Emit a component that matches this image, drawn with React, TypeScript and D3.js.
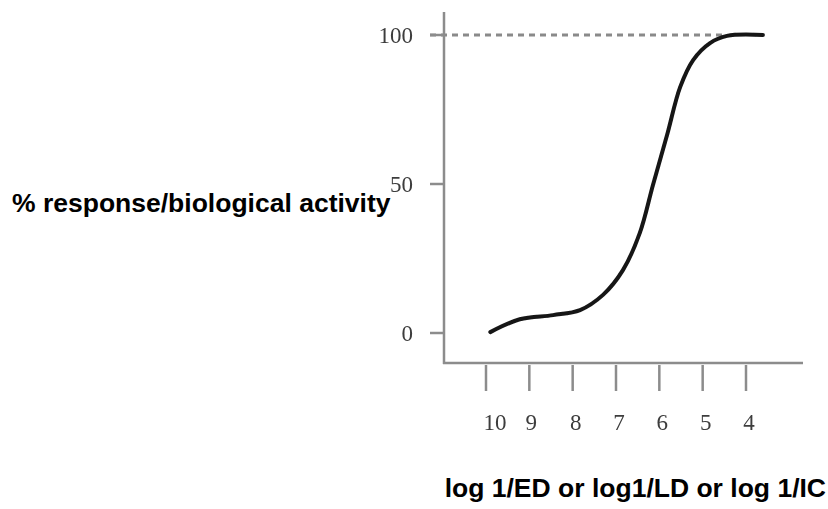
import React, { useEffect, useRef } from "react";
import * as d3 from "d3";

// dose-response curve
const curveX = [9.9, 9.22, 8.45, 7.83, 7.3, 6.84, 6.45, 6.15, 5.82, 5.52, 5.22, 4.83, 4.44, 3.61];
const curveY = [0.3, 4.6, 6, 7.7, 12.8, 21.1, 33.6, 49.5, 66.5, 82.5, 91.6, 97.3, 99.7, 100];

const xTicks = [10, 9, 8, 7, 6, 5, 4];
const yTicks = [0, 50, 100];
const yTitle = "% response/biological activity";
const xTitle = "log 1/ED or log1/LD or log 1/IC";

const W = 828;
const H = 509;
const AXIS = "#8c8c8c";
const SERIF = "'Liberation Serif', 'Times New Roman', serif";
const SANS = "'Liberation Sans', Arial, sans-serif";

const App = () => {
    const svgRef = useRef<SVGSVGElement>(null);

    useEffect(() => {
        if (!svgRef.current) return;
        const svg = d3.select(svgRef.current);
        svg.selectAll("*").remove();

        const x = d3.scaleLinear().domain([10, 4]).range([486, 746]);
        const y = d3.scaleLinear().domain([0, 100]).range([333, 35]);

        const axisX = 444;
        const axisY = 363;

        svg.append("defs").append("filter")
            .attr("id", "soft")
            .append("feGaussianBlur").attr("stdDeviation", 0.6);

        const g = svg.append("g").attr("filter", "url(#soft)");

        // ── 100% reference line ─────────────────────────────────────────────
        g.append("line")
            .attr("x1", axisX - 14).attr("x2", x(4.45))
            .attr("y1", y(100)).attr("y2", y(100))
            .attr("stroke", "#8a8a8a").attr("stroke-width", 2.8)
            .attr("stroke-dasharray", "6,5");

        // ── Axes ────────────────────────────────────────────────────────────
        g.append("line")
            .attr("x1", axisX).attr("x2", axisX)
            .attr("y1", 12).attr("y2", axisY + 1)
            .attr("stroke", AXIS).attr("stroke-width", 2.5);
        g.append("line")
            .attr("x1", axisX - 1).attr("x2", 803)
            .attr("y1", axisY).attr("y2", axisY)
            .attr("stroke", AXIS).attr("stroke-width", 2.5);

        yTicks.forEach(t => {
            g.append("line")
                .attr("x1", axisX - 14).attr("x2", axisX)
                .attr("y1", y(t)).attr("y2", y(t))
                .attr("stroke", AXIS).attr("stroke-width", 2.5);
            g.append("text")
                .attr("x", 413).attr("y", y(t) + 8)
                .attr("text-anchor", "end")
                .attr("font-family", SERIF).attr("font-size", "23px")
                .attr("fill", "#3c3c3c")
                .text(t);
        });

        xTicks.forEach(t => {
            g.append("line")
                .attr("x1", x(t)).attr("x2", x(t))
                .attr("y1", axisY + 2).attr("y2", 391)
                .attr("stroke", AXIS).attr("stroke-width", 2.5);
            g.append("text")
                .attr("x", x(t) + (t === 10 ? 9 : t === 9 ? 2 : 3)).attr("y", 430)
                .attr("text-anchor", "middle")
                .attr("font-family", SERIF).attr("font-size", "23px")
                .attr("fill", "#3c3c3c")
                .text(t);
        });

        // ── Curve ───────────────────────────────────────────────────────────
        const pts: [number, number][] = curveX.map((v, i) => [v, curveY[i]]);
        const line = d3.line<[number, number]>()
            .x(d => x(d[0])).y(d => y(d[1]))
            .curve(d3.curveCatmullRom.alpha(0.5));
        g.append("path")
            .attr("d", line(pts))
            .attr("fill", "none")
            .attr("stroke", "#151515")
            .attr("stroke-width", 4)
            .attr("stroke-linecap", "round");

        // ── Titles ──────────────────────────────────────────────────────────
        svg.append("text")
            .attr("x", 12).attr("y", 212)
            .attr("font-family", SANS).attr("font-size", "26.5px")
            .attr("font-weight", "700").attr("fill", "#000")
            .text(yTitle);
        svg.append("text")
            .attr("x", 826).attr("y", 497)
            .attr("text-anchor", "end")
            .attr("font-family", SANS).attr("font-size", "26.5px")
            .attr("font-weight", "700").attr("fill", "#000")
            .text(xTitle);
    }, []);

    return (
        <svg
            ref={svgRef}
            width={W}
            height={H}
            style={{ position: "absolute", left: 0, top: 0, background: "#fff" }}
        />
    );
};

export default App;
